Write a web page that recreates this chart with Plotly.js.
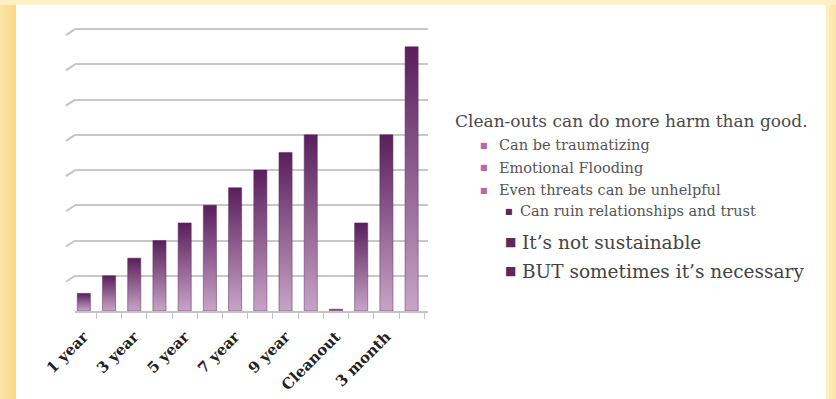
<!DOCTYPE html>
<html><head><meta charset="utf-8">
<script src="https://cdn.plot.ly/plotly-3.0.1.min.js"></script>
<style>
html,body{margin:0;padding:0;width:836px;height:399px;overflow:hidden;}
body{background:linear-gradient(to bottom,#fdf0c6 0px,#fdf0c6 5px,transparent 5px),linear-gradient(to right,#fce6a8 0px,#f9d886 16px,#fdf0c6 16px);}
#chart{position:absolute;left:16px;top:5px;width:810px;height:394px;background:#fff;}
#rstrip{position:absolute;left:826px;top:5px;width:10px;height:394px;background:linear-gradient(to right,#fdf0c6,#fbe3a6);}
</style></head>
<body>
<div id="chart"></div><div id="rstrip"></div>
<script>
const categories = ["1 year","2 year","3 year","4 year","5 year","6 year","7 year","8 year","9 year","10 year","Cleanout","1 month","3 month","6 month"];
const values = [0.5,1,1.5,2,2.5,3,3.5,4,4.5,5,0.05,2.5,5,7.5];
const tickLabels = categories.map((c,i)=> i%2===0 ? c : "");
const gridVals = [1,2,3,4,5,6,7,8];
const heading = "Clean-outs can do more harm than good.";
const bullets1 = ["Can be traumatizing","Emotional Flooding","Even threats can be unhelpful"];
const bullets2 = ["Can ruin relationships and trust"];
const bullets3 = ["It’s not sustainable","BUT sometimes it’s necessary"];

// layout geometry (div coords)
const W=810,H=394, L=59, R=398, T=22, B=88;
const pw=W-L-R, ph=H-T-B;
const px = x => (x-16-L)/pw;      // page x -> paper
const py = y => 1-(y-5-T)/ph;     // page y -> paper

const ann=[];
function txt(x,y,t,size,color){ann.push({xref:'paper',yref:'paper',x:px(x),y:py(y),text:t,showarrow:false,xanchor:'left',yanchor:'middle',font:{family:'DejaVu Serif',size:size,color:color}});}
txt(453,121,heading,17,'#4a4a4a');
bullets1.forEach((b,i)=>{txt(478,145+i*22.5,'■',8,'#b56aa8');txt(497,145+i*22.5,b,14.5,'#555');});
bullets2.forEach((b,i)=>{txt(503,211,'■',8,'#5a2a5a');txt(518,211,b,14.5,'#555');});
bullets3.forEach((b,i)=>{txt(503,242+i*29,'■',12,'#5a2a5a');txt(520,242+i*29,b,18.5,'#444');});

const shapes = gridVals.map(v=>({type:'line',xref:'paper',yref:'y',x0:px(66),x1:px(75),y0:v-0.17,y1:v,line:{color:'#c4c4c4',width:2}}));
shapes.push({type:'line',xref:'paper',yref:'y',x0:px(66),x1:px(75),y0:-0.17,y1:0,line:{color:'#c4c4c4',width:2}});

const data=[{type:'bar',x:categories,y:values,marker:{color:'#8a5488',line:{color:'#5a2a5a',width:0.5}},hoverinfo:'x+y'}];
const layout={width:W,height:H,margin:{l:L,r:R,t:T,b:B},paper_bgcolor:'rgba(0,0,0,0)',plot_bgcolor:'rgba(0,0,0,0)',
 bargap:0.48,showlegend:false,
 xaxis:{type:'category',range:[-0.35,13.65],tickmode:'array',tickvals:categories,ticktext:tickLabels,tickangle:-45,ticks:'outside',tickson:'boundaries',ticklen:6,tickcolor:'#c4c4c4',showline:true,linecolor:'#c4c4c4',linewidth:2,showgrid:false,ticklabelstandoff:9,tickfont:{family:'DejaVu Serif',size:15,color:'#222',weight:'bold'}},
 yaxis:{range:[0,8.06],dtick:1,showticklabels:false,showgrid:true,gridcolor:'#c8c8c8',gridwidth:2,zeroline:false,showline:false},
 shapes:shapes, annotations:ann};
Plotly.newPlot('chart',data,layout,{displayModeBar:false,staticPlot:true}).then(gd=>{
 const svg=gd.querySelector('svg.main-svg');
 const ns='http://www.w3.org/2000/svg';
 let defs=svg.querySelector('defs');
 const g=document.createElementNS(ns,'linearGradient');
 g.setAttribute('id','barGrad');g.setAttribute('x1','0');g.setAttribute('y1','0');g.setAttribute('x2','0');g.setAttribute('y2','1');
 [['0','#5a1e5c'],['1','#c8a4c8']].forEach(([o,c])=>{const s=document.createElementNS(ns,'stop');s.setAttribute('offset',o);s.setAttribute('stop-color',c);g.appendChild(s);});
 defs.appendChild(g);
 gd.querySelectorAll('.bars .point path').forEach(p=>{p.style.fill='url(#barGrad)';});
});
</script>
</body></html>
